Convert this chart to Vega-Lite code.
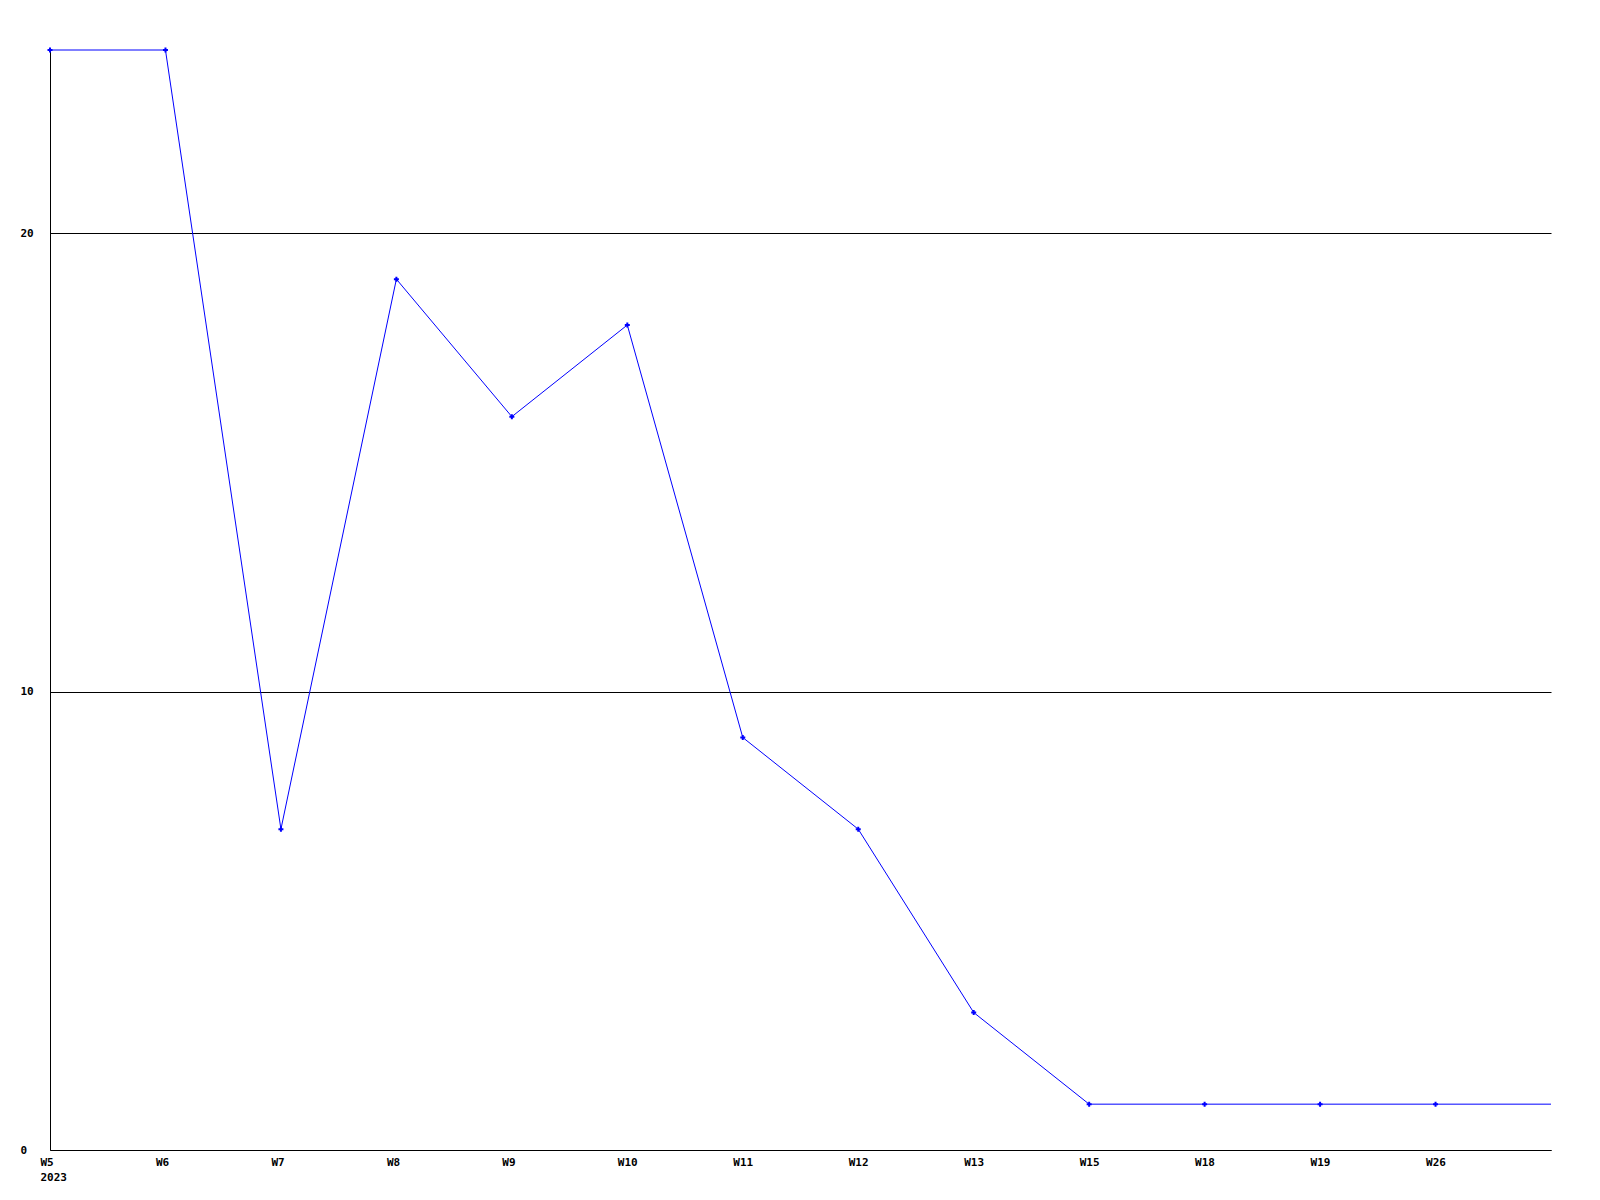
{
  "$schema": "https://vega.github.io/schema/vega-lite/v6.json",
  "width": 1501,
  "height": 1100,
  "autosize": {"type": "none"},
  "padding": {"left": 50, "top": 50, "right": 49, "bottom": 50},
  "background": "white",
  "config": {"view": {"stroke": null}},
  "data": {
    "values": [
      {"week": "W5", "value": 24, "marker": true},
      {"week": "W6", "value": 24, "marker": true},
      {"week": "W7", "value": 7, "marker": true},
      {"week": "W8", "value": 19, "marker": true},
      {"week": "W9", "value": 16, "marker": true},
      {"week": "W10", "value": 18, "marker": true},
      {"week": "W11", "value": 9, "marker": true},
      {"week": "W12", "value": 7, "marker": true},
      {"week": "W13", "value": 3, "marker": true},
      {"week": "W15", "value": 1, "marker": true},
      {"week": "W18", "value": 1, "marker": true},
      {"week": "W19", "value": 1, "marker": true},
      {"week": "W26", "value": 1, "marker": true},
      {"week": "end", "value": 1, "marker": false}
    ]
  },
  "encoding": {
    "x": {
      "field": "week",
      "type": "ordinal",
      "sort": null,
      "scale": {"type": "point", "padding": 0},
      "axis": {
        "title": null,
        "grid": false,
        "ticks": false,
        "tickSize": 0,
        "domainColor": "black",
        "domainWidth": 1,
        "labelAngle": 0,
        "labelAlign": "left",
        "labelOffset": -10,
        "labelPadding": 6,
        "labelBaseline": "top",
        "labelFont": "DejaVu Sans Mono",
        "labelFontWeight": "bold",
        "labelFontSize": 11,
        "labelColor": "black",
        "labelLineHeight": 15,
        "labelOverlap": false,
        "labelBound": false,
        "labelFlush": false,
        "labelExpr": "datum.value == 'end' ? '' : (datum.value == 'W5' ? ['W5', '2023'] : datum.value)"
      }
    },
    "y": {
      "field": "value",
      "type": "quantitative",
      "scale": {"domain": [0, 24], "nice": false, "zero": true},
      "axis": {
        "title": null,
        "values": [0, 10, 20],
        "grid": true,
        "gridColor": "black",
        "gridOpacity": 1,
        "gridWidth": 1,
        "ticks": false,
        "tickSize": 0,
        "domainColor": "black",
        "domainWidth": 1,
        "labelAlign": "left",
        "labelBaseline": "middle",
        "labelPadding": 30,
        "labelFont": "DejaVu Sans Mono",
        "labelFontWeight": "bold",
        "labelFontSize": 11,
        "labelColor": "black"
      }
    }
  },
  "layer": [
    {
      "mark": {"type": "line", "color": "#0000FF", "strokeWidth": 1}
    },
    {
      "transform": [{"filter": "datum.marker"}],
      "mark": {"type": "point", "shape": "cross", "filled": true, "color": "#0000FF", "size": 25, "opacity": 1}
    }
  ]
}
